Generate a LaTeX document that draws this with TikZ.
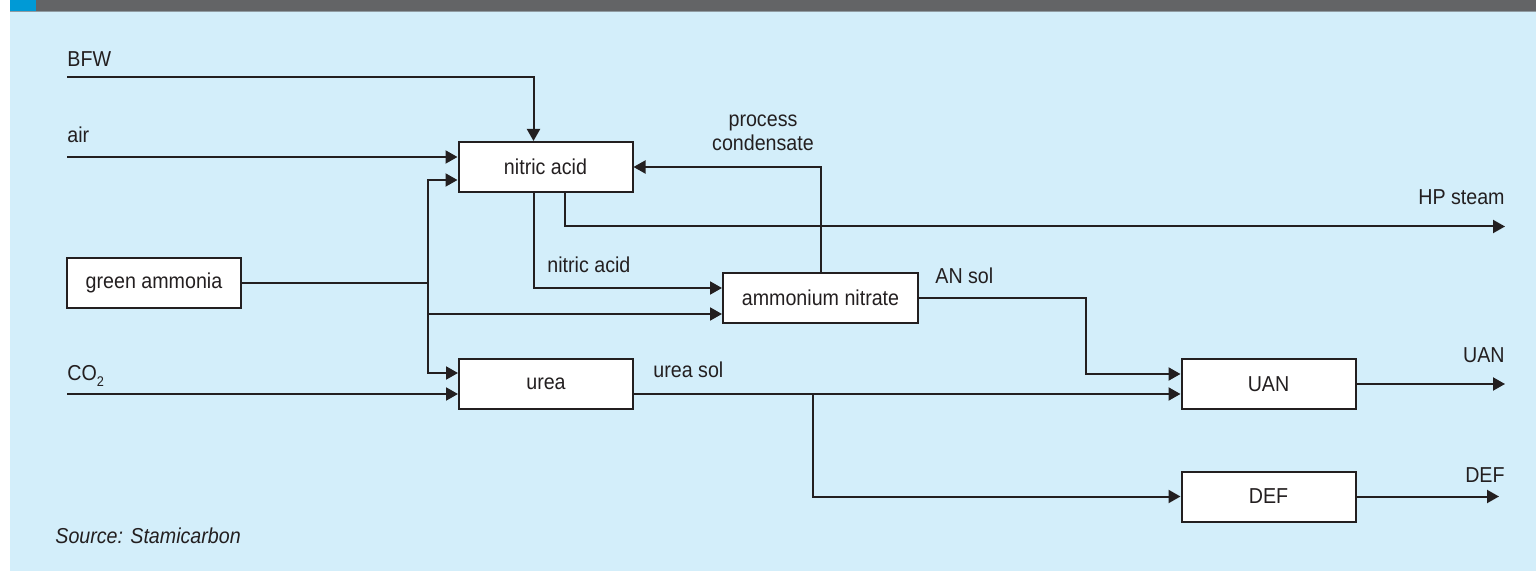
\documentclass[tikz,border=0pt]{standalone}
\usepackage{fontspec}
\setmainfont{Liberation Sans}[FakeStretch=0.91]
\usetikzlibrary{arrows.meta,calc}
\definecolor{bgblue}{HTML}{D3EEFA}
\definecolor{bargray}{HTML}{636466}
\definecolor{barblue}{HTML}{009AD6}
\definecolor{ink}{HTML}{231F20}

\begin{document}
\begin{tikzpicture}[x=0.5pt,y=-0.5pt,font=\fontsize{10.8}{12}\selectfont,
  unit/.style={draw=ink,line width=1pt,fill=white,minimum width=87pt,minimum height=25pt,inner sep=0pt,text=ink},
  flow/.style={draw=ink,line width=1pt,-{Triangle[length=6pt,width=6.5pt]}},
  pipe/.style={draw=ink,line width=1pt},
  lbl/.style={text=ink,inner sep=0pt}]
\useasboundingbox (0,0) rectangle (1536,571);
\fill[white] (0,0) rectangle (1536,571);
\fill[bgblue] (10,12) rectangle (1536,571);
\fill[bargray] (36,0) rectangle (1536,11);
\fill[barblue] (10,0) rectangle (36,11);
\draw[line width=0.5pt,color=bargray!60!bgblue] (10,11.5) -- (1536,11.5);

\node[unit] (nitric) at (545.5,167) {nitric acid};
\node[unit,minimum width=97.5pt] (ammonium) at (820.5,298) {ammonium nitrate};
\node[unit] (urea) at (546,384) {urea};
\node[unit] (ammonia) at (154,283) {green ammonia};
\node[unit] (uan) at (1268.5,384) {UAN};
\node[unit] (def) at (1268.5,496.5) {DEF};

\coordinate (bfw) at (67,77.5);
\coordinate (air) at (67,157);
\coordinate (co2) at (67,394);
\coordinate (split) at (428,283);
\coordinate (ureasplit) at (813,394);
\coordinate (steam) at (1505,226.5);
\coordinate (uanout) at (1505,384);
\coordinate (defout) at (1499,496.5);

\draw[flow] (bfw) -| ($(nitric.north west)+(76,0)$);
\draw[flow] (air) -- (air -| nitric.west);
\draw[flow] (co2) -- (co2 -| urea.west);
\draw[pipe] (ammonia.east) -- (split);
\draw[flow] (split) |- ($(nitric.south west)+(0,-13)$);
\draw[flow] (split) |- ($(ammonium.south west)+(0,-10)$);
\draw[flow] (split) |- ($(urea.north west)+(0,15)$);
\draw[flow] ($(nitric.south west)+(76,0)$) |- ($(ammonium.north west)+(0,16)$);
\draw[flow] ($(nitric.south west)+(107,0)$) |- (steam);
\draw[flow] (ammonium.north) |- (nitric.east);
\draw[flow] (ammonium.east) -| ($(uan.west)+(-95,-10)$) -- ($(uan.west)+(0,-10)$);
\draw[flow] ($(urea.east)+(0,10)$) -- ($(uan.west)+(0,10)$);
\draw[flow] (ureasplit) |- (def.west);
\draw[flow] (uan.east) -- (uanout);
\draw[flow] (def.east) -- (defout);

\foreach \n/\x/\y/\t in {bfwlbl/67/67/BFW,airlbl/67/143/air,co2lbl/67/380/CO\raisebox{-0.55ex}{\fontsize{7}{8}\selectfont 2},
   hnolbl/547/273/nitric acid,anlbl/935/284/AN sol,urealbl/653/378/urea sol} {
   \node[lbl,anchor=base west] (\n) at (\x,\y) {\t};
}
\foreach \n/\y/\t in {steamlbl/205/HP steam,uanlbl/363/UAN,deflbl/482/DEF} {
   \node[lbl,anchor=base east] (\n) at (1505,\y) {\t};
}
\node[lbl,align=center] (condlbl) at (763,133) {process\\condensate};
\node[lbl,anchor=base west,font=\fontsize{10.8}{12}\selectfont\itshape] (srclbl) at (55,543) {Source: Stamicarbon};
\end{tikzpicture}
\end{document}
